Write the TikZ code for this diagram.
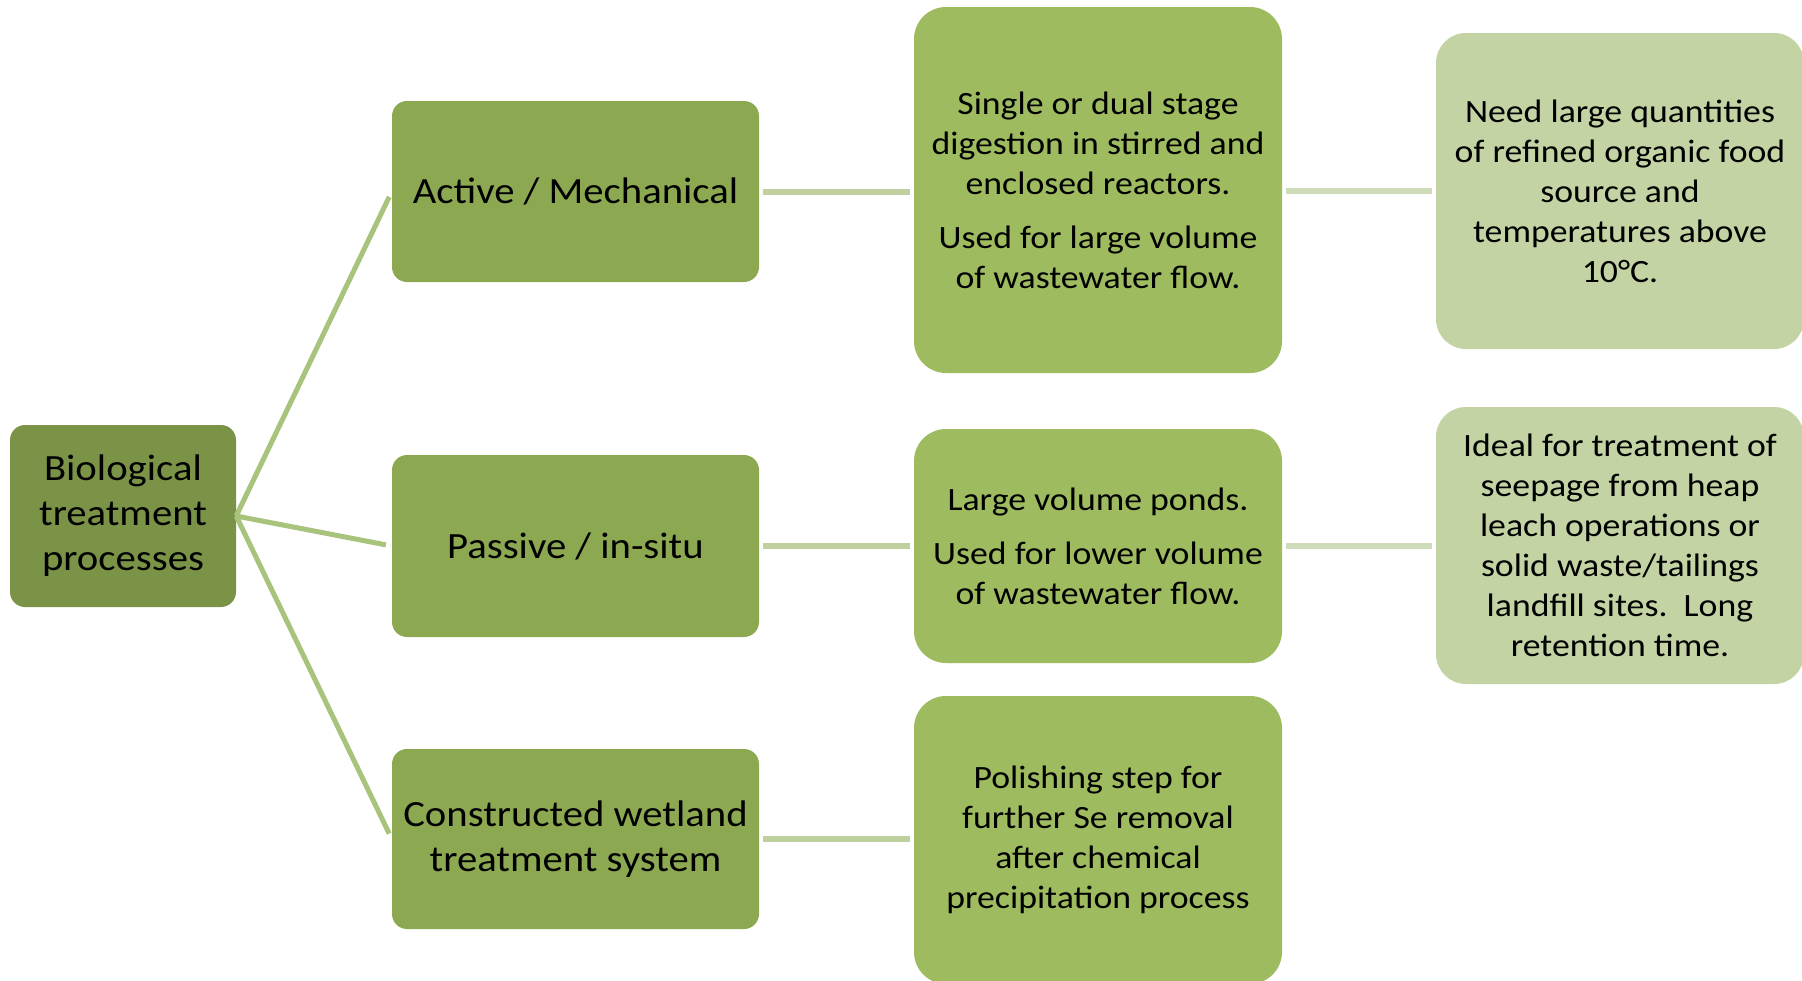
\documentclass[tikz,border=0pt]{standalone}
\usepackage{fontspec}
\setmainfont{Carlito}[FakeStretch=1.1]
\definecolor{rootc}{RGB}{123,147,70}
\definecolor{lvtwo}{RGB}{140,169,82}
\definecolor{lvthree}{RGB}{158,187,95}
\definecolor{lvfour}{RGB}{195,211,164}
\definecolor{linea}{RGB}{168,196,124}
\definecolor{lineb}{RGB}{190,208,158}
\definecolor{linec}{RGB}{207,220,186}
\tikzset{
  box/.style={rectangle, draw=none, inner sep=0pt, align=center, text=black},
  rootbox/.style={box, fill=rootc, rounded corners=15pt, minimum width=226pt, minimum height=182pt, font=\fontsize{37}{45}\selectfont},
  midbox/.style={box, fill=lvtwo, rounded corners=15pt, minimum width=367pt, minimum height=181pt, font=\fontsize{37}{45}\selectfont},
  detbox/.style={box, fill=lvthree, rounded corners=32pt, minimum width=368pt, font=\fontsize{32.5}{40}\selectfont},
  notebox/.style={box, fill=lvfour, rounded corners=30pt, minimum width=368pt, font=\fontsize{32.5}{40}\selectfont},
  brancha/.style={draw=linea, line width=5pt},
  branchb/.style={draw=lineb, line width=6pt},
  branchc/.style={draw=linec, line width=6pt}
}
\begin{document}
\begin{tikzpicture}[x=1pt,y=-1pt]
\useasboundingbox (0,0) rectangle (1802,980);
\clip (0,0) rectangle (1802,980);
\fill[white] (0,0) rectangle (1802,980);
% nodes
\node[rootbox] (root) at (123,516) {Biological\\treatment\\processes};
\node[midbox] (active) at (575.5,191.5) {Active / Mechanical};
\node[midbox, minimum height=182pt] (passive) at (575.5,546) {Passive / in-situ};
\node[midbox, minimum height=180pt] (wetland) at (575.5,839) {Constructed wetland\\treatment system};
\node[detbox, minimum height=366pt] (digest) at (1098,190) {Single or dual stage\\digestion in stirred and\\enclosed reactors.\\[14pt]Used for large volume\\of wastewater flow.};
\node[detbox, minimum height=234pt] (ponds) at (1098,546) {Large volume ponds.\\[14pt]Used for lower volume\\of wastewater flow.};
\node[detbox, minimum height=288pt] (polish) at (1098,840) {Polishing step for\\further Se removal\\after chemical\\precipitation process};
\node[notebox, minimum height=316pt] (need) at (1620,191) {Need large quantities\\of refined organic food\\source and\\temperatures above\\10°C.};
\node[notebox, minimum height=277pt] (ideal) at (1620,545.5) {Ideal for treatment of\\seepage from heap\\leach operations or\\solid waste/tailings\\landfill sites.\ \ Long\\retention time.};
% connectors
\draw[brancha, shorten >=6pt] (root.east) -- (active.west);
\draw[brancha, shorten >=6pt] (root.east) -- (passive.west);
\draw[brancha, shorten >=6pt] (root.east) -- (wetland.west);
\draw[branchb, shorten <=4pt, shorten >=4pt] (active.east) -- (active.east -| digest.west);
\draw[branchb, shorten <=4pt, shorten >=4pt] (passive.east) -- (passive.east -| ponds.west);
\draw[branchb, shorten <=4pt, shorten >=4pt] (wetland.east) -- (wetland.east -| polish.west);
\draw[branchc, shorten <=4pt, shorten >=4pt] (digest.east |- need.west) -- (need.west);
\draw[branchc, shorten <=4pt, shorten >=4pt] (ponds.east |- ideal.west) -- (ideal.west);
\end{tikzpicture}
\end{document}
